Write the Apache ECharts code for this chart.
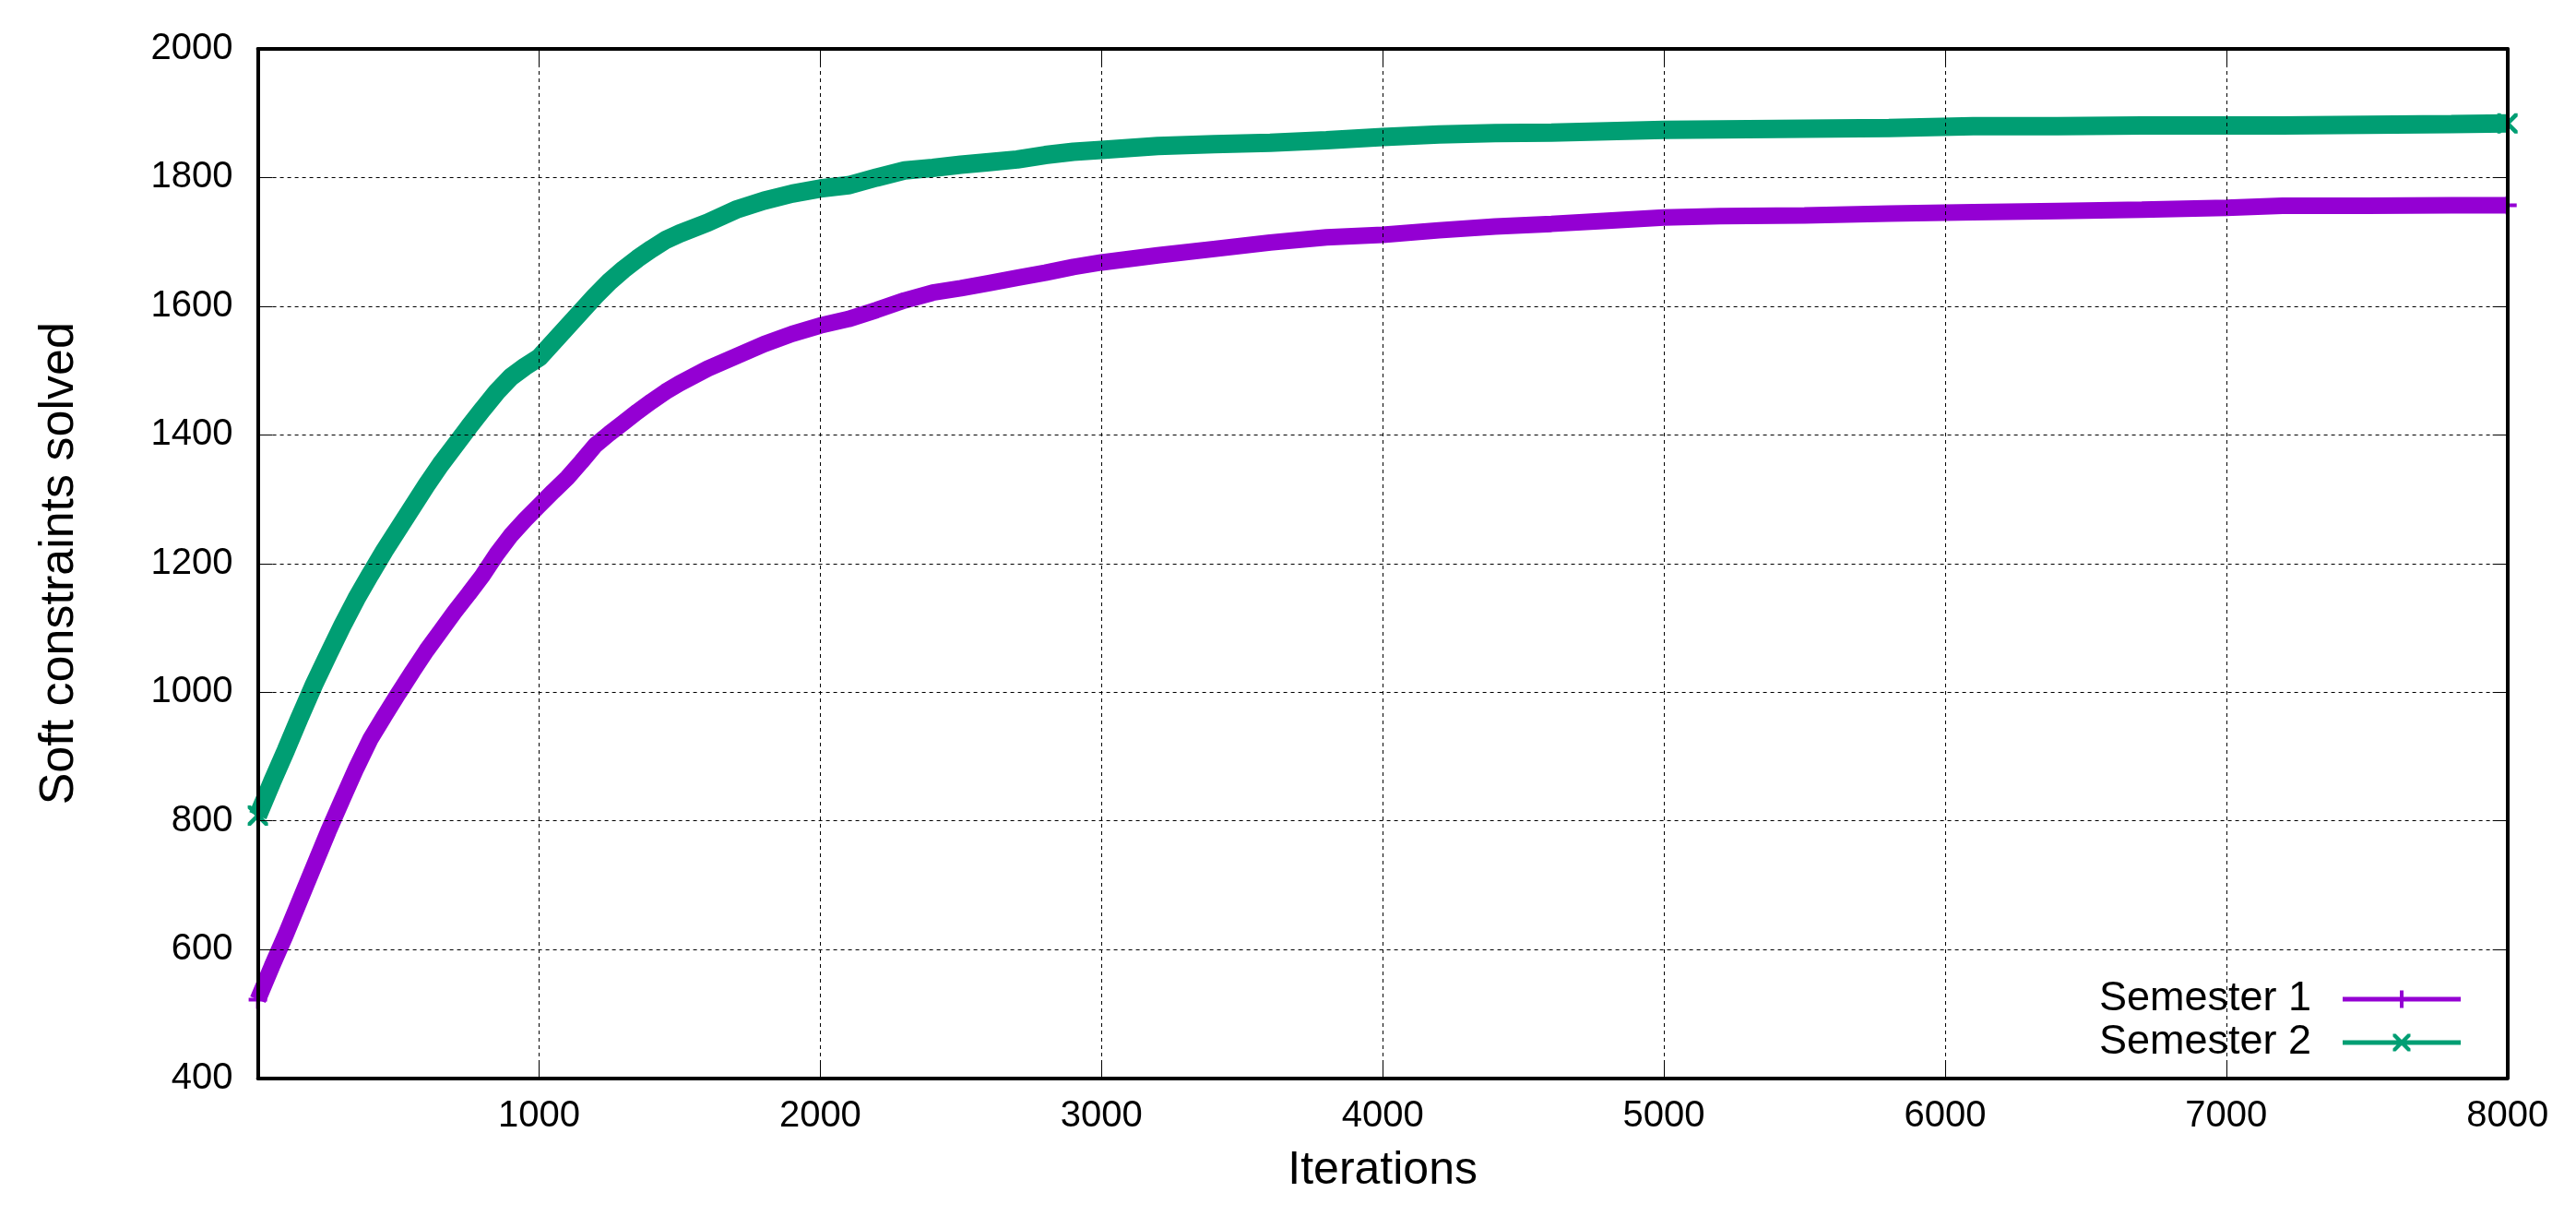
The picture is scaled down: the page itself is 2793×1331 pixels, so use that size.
<!DOCTYPE html>
<html>
<head>
<meta charset="utf-8">
<script src="https://cdn.jsdelivr.net/npm/echarts@6/dist/echarts.min.js"></script>
<style>
html,body{margin:0;padding:0;background:#fff;}
#chart{width:2793px;height:1331px;}
</style>
</head>
<body>
<div id="chart"></div>
<script>
var iterations = [0,50,100,150,200,250,300,350,400,450,500,550,600,650,700,750,800,850,900,950,1000,1050,1100,1150,1200,1250,1300,1350,1400,1450,1500,1600,1700,1800,1900,2000,2100,2200,2300,2400,2500,2600,2700,2800,2900,3000,3200,3400,3600,3800,4000,4200,4400,4600,4800,5000,5200,5500,5800,6100,6400,6700,7000,7200,7500,7800,8000];
var semester1 = [522,574,624,677,730,783,833,882,927,963,998,1032,1065,1095,1125,1153,1182,1215,1244,1268,1290,1312,1333,1358,1384,1402,1419,1436,1452,1467,1480,1503,1522,1541,1557,1570,1580,1594,1609,1621,1628,1636,1644,1652,1661,1668,1679,1689,1699,1707,1711,1718,1724,1728,1733,1738,1740,1741,1744,1746,1748,1750,1753,1756,1756,1757,1757];
var semester2 = [808,860,910,962,1012,1058,1103,1145,1183,1220,1254,1288,1322,1354,1383,1412,1440,1467,1490,1506,1520,1544,1568,1592,1616,1638,1657,1674,1689,1703,1713,1730,1750,1764,1775,1783,1788,1800,1811,1815,1820,1824,1828,1835,1840,1843,1849,1852,1854,1858,1863,1867,1869,1870,1872,1874,1875,1876,1877,1880,1880,1881,1881,1881,1882,1883,1884];
var seriesNames = ['Semester 1','Semester 2'];
var xTicks = {min:0, max:8000, interval:1000};
var yTicks = {min:400, max:2000, interval:200};

var FONT = 'Liberation Sans, Arial, Helvetica, sans-serif';
var PLUS_ICON = 'path://M0,7H128V12H0Z M62,0H66V19H62Z';
var X_ICON = 'path://M0,7H128V12H0Z M54.5,0H57.5L73.5,16V19H70.5L54.5,3Z M70.5,0H73.5V3L57.5,19H54.5V16Z';
var PLUS_SYM = 'path://M8,0H12V20H8Z M0,8H20V12H0Z';
var X_SYM = 'path://M0,0H3L20,17V20H17L0,3Z M17,0H20V3L3,20H0V17Z';

function buildData(xs, ys, sym) {
  var last = xs.length - 1;
  return xs.map(function (x, i) {
    var item = {value: [x, ys[i]]};
    item.symbol = (i === 0 || i === last) ? sym : 'none';
    return item;
  });
}
function plain(v) { return String(v); }

var chart = echarts.init(document.getElementById('chart'), null, {renderer: 'canvas'});
var black = '#000';
var axisLineStyle = {color: black, width: 4};
var tickStyle = {color: black, width: 1};
var gridStyle = {color: black, width: 1, type: [4, 4]};

chart.setOption({
  animation: false,
  backgroundColor: '#fff',
  textStyle: {fontFamily: FONT},
  grid: {left: 279.6, right: 74.3, top: 53, bottom: 162.5},
  legend: {
    orient: 'vertical',
    right: 125,
    top: 1059.5,
    padding: 0,
    align: 'right',
    itemWidth: 128,
    itemHeight: 19,
    itemGap: 0,
    selectedMode: false,
    itemStyle: {borderWidth: 0},
    textStyle: {fontSize: 45, lineHeight: 47, color: black, fontFamily: FONT, padding: [0, 29, 0, 0]},
    data: [
      {name: seriesNames[0], icon: PLUS_ICON},
      {name: seriesNames[1], icon: X_ICON}
    ]
  },
  xAxis: [
    {
      type: 'value', position: 'bottom', min: xTicks.min, max: xTicks.max, interval: xTicks.interval,
      z: 10,
      axisLine: {show: true, onZero: false, lineStyle: axisLineStyle},
      axisTick: {show: true, inside: true, length: 16, lineStyle: tickStyle},
      axisLabel: {show: true, showMinLabel: false, margin: 21, fontSize: 40, color: black, fontFamily: FONT, formatter: plain},
      splitLine: {show: true, lineStyle: gridStyle},
      name: 'Iterations', nameLocation: 'middle', nameGap: 76,
      nameTextStyle: {fontSize: 50, color: black, fontFamily: FONT}
    },
    {
      type: 'value', position: 'top', min: xTicks.min, max: xTicks.max, interval: xTicks.interval,
      z: 10,
      axisLine: {show: true, onZero: false, lineStyle: axisLineStyle},
      axisTick: {show: true, inside: true, length: 16, lineStyle: tickStyle},
      axisLabel: {show: false},
      splitLine: {show: false}
    }
  ],
  yAxis: [
    {
      type: 'value', position: 'left', min: yTicks.min, max: yTicks.max, interval: yTicks.interval,
      z: 10,
      axisLine: {show: true, onZero: false, lineStyle: axisLineStyle},
      axisTick: {show: true, inside: true, length: 16, lineStyle: tickStyle},
      axisLabel: {show: true, margin: 27, fontSize: 40, color: black, fontFamily: FONT, formatter: plain},
      splitLine: {show: true, lineStyle: gridStyle},
      name: 'Soft constraints solved', nameLocation: 'middle', nameGap: 189,
      nameTextStyle: {fontSize: 52, color: black, fontFamily: FONT}
    },
    {
      type: 'value', position: 'right', min: yTicks.min, max: yTicks.max, interval: yTicks.interval,
      z: 10,
      axisLine: {show: true, onZero: false, lineStyle: axisLineStyle},
      axisTick: {show: true, inside: true, length: 16, lineStyle: tickStyle},
      axisLabel: {show: false},
      splitLine: {show: false}
    }
  ],
  series: [
    {
      name: seriesNames[0], type: 'line', xAxisIndex: 0, yAxisIndex: 0,
      color: '#9400D3',
      data: buildData(iterations, semester1, PLUS_SYM),
      symbolSize: 20,
      lineStyle: {width: 18, color: '#9400D3'},
      itemStyle: {color: '#9400D3', borderWidth: 0},
      emphasis: {disabled: true},
      silent: true,
      clip: true,
      z: 2
    },
    {
      name: seriesNames[1], type: 'line', xAxisIndex: 0, yAxisIndex: 0,
      color: '#009E73',
      data: buildData(iterations, semester2, X_SYM),
      symbolSize: 22,
      lineStyle: {width: 20, color: '#009E73'},
      itemStyle: {color: '#009E73', borderWidth: 0},
      emphasis: {disabled: true},
      silent: true,
      clip: true,
      z: 2
    }
  ]
});
</script>
</body>
</html>
